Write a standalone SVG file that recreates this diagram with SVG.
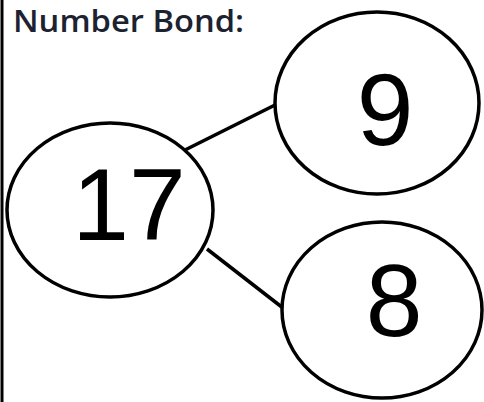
<svg xmlns="http://www.w3.org/2000/svg" width="484" height="402" viewBox="0 0 484 402">
<defs>
<style>
.node{fill:#fff;stroke:#000;stroke-width:3.5}
.num{font-family:"Liberation Sans",Arial,sans-serif;font-size:102px;fill:#000;text-anchor:middle}
.conn{stroke:#000;stroke-width:3.5;fill:none}
.title{font-family:"Open Sans","Liberation Sans",sans-serif;font-weight:600;font-size:31px;fill:#1c2230}
</style>
<filter id="soft" x="-5%" y="-5%" width="110%" height="110%"><feGaussianBlur stdDeviation="0.4"/></filter>
</defs>
<rect width="484" height="402" fill="#fff"/>
<line x1="2" y1="0" x2="2" y2="402" stroke="#000" stroke-width="3"/>
<text class="title" x="13" y="32" textLength="231" lengthAdjust="spacingAndGlyphs">Number Bond:</text>
<g id="connectors">
<line class="conn" x1="183" y1="151" x2="277" y2="104"/>
<line class="conn" x1="207" y1="249" x2="283" y2="308"/>
</g>
<g id="n17">
<ellipse class="node" cx="110" cy="210" rx="103" ry="87" filter="url(#soft)"/>
<text class="num" x="129" y="240">17</text>
</g>
<g id="n9">
<ellipse class="node" cx="377" cy="103" rx="102" ry="91" filter="url(#soft)"/>
<text class="num" x="385" y="145">9</text>
</g>
<g id="n8">
<ellipse class="node" cx="382" cy="310" rx="100" ry="88" filter="url(#soft)"/>
<text class="num" x="394" y="336">8</text>
</g>
</svg>
